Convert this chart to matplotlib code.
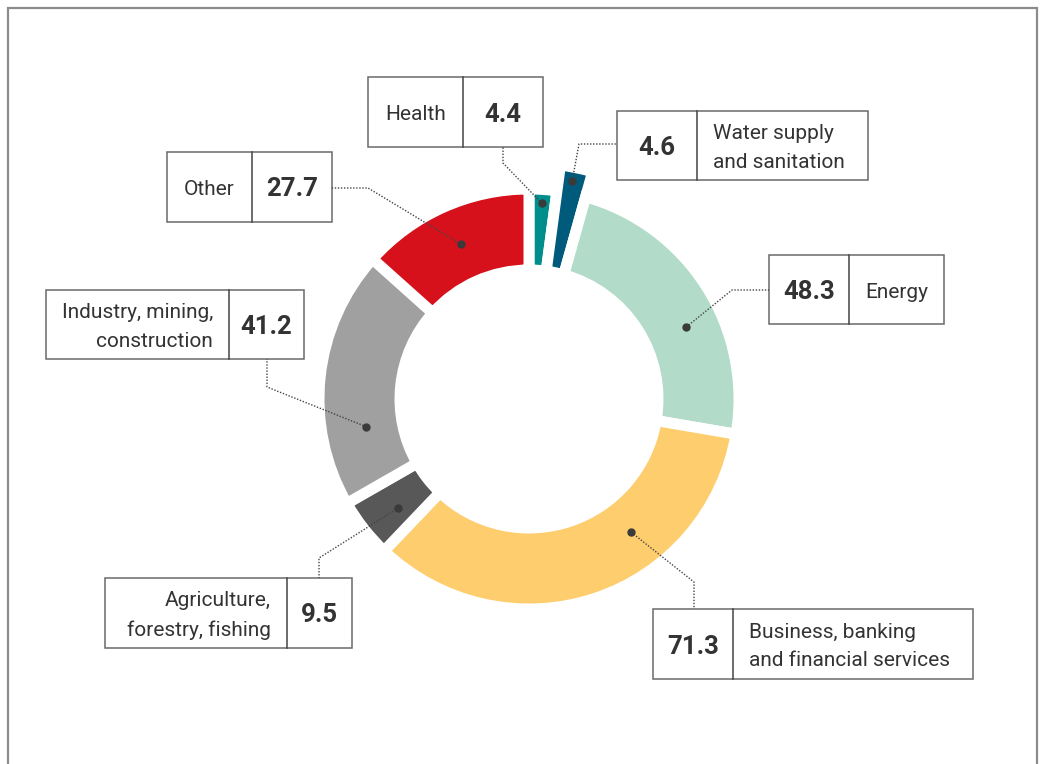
"""
Donut chart of allocations by sector, with boxed labels and dotted leaders.
Output: out.png (1041 x 764 px)
"""
import numpy as np
import matplotlib
matplotlib.use("Agg")
import matplotlib.pyplot as plt
from matplotlib.patches import Rectangle

plt.rcParams["font.family"] = ["Roboto", "DejaVu Sans"]

# ---- data (clockwise from 12 o'clock) ----
sectors = ["Health", "Water supply\nand sanitation", "Energy",
           "Business, banking\nand financial services",
           "Agriculture,\nforestry, fishing",
           "Industry, mining,\nconstruction", "Other"]
values = [4.4, 4.6, 48.3, 71.3, 9.5, 41.2, 27.7]
value_labels = ["4.4", "4.6", "48.3", "71.3", "9.5", "41.2", "27.7"]
colors = ["#008E8C", "#005A7C", "#B2DBC9", "#FDCD6E",
          "#585858", "#A0A0A0", "#D7111B"]

# ---- layout (pixel units, y measured from top) ----
W, H = 1041, 764
CX, CY = 529, 399
R_OUT, R_IN = 210, 129          # incl. half of the white stroke
R_WATER = 236                   # water slice sticks out
GAP_PT = 7.9
TXT = "#333333"

# box: left, top, right, bottom, divider x, value side, label align
boxes = {
    "Health":   dict(box=(368, 77, 543, 147), div=463, val="right", al="center"),
    "Water":    dict(box=(617, 111, 868, 180), div=697, val="left", al="left"),
    "Energy":   dict(box=(769, 255, 944, 324), div=849, val="left", al="center"),
    "Business": dict(box=(653, 609, 973, 679), div=733, val="left", al="left"),
    "Agri":     dict(box=(105, 578, 352, 648), div=287, val="right", al="right"),
    "Industry": dict(box=(46, 290, 304, 359), div=229, val="right", al="right"),
    "Other":    dict(box=(167, 152, 332, 222), div=252, val="right", al="center"),
}
box_keys = ["Health", "Water", "Energy", "Business", "Agri", "Industry", "Other"]
# leader: anchor angle (deg clockwise from top), anchor radius, elbow, box end
leaders = [
    (3.8, 196, (503, 163), (503, 147)),
    (11.2, 222, (579, 144), (617, 144)),
    (65.4, 173, (732, 290), (769, 290)),
    (142.5, 168, (694, 582), (694, 609)),
    (230.2, 170, (319, 558), (319, 578)),
    (260.3, 165, (267, 387), (267, 359)),
    (336.3, 169, (368, 188), (332, 188)),
]


def Y(py):
    return H - py


fig = plt.figure(figsize=(W / 100, H / 100), dpi=100)
ax = fig.add_axes([0, 0, 1, 1])

wedges, _ = ax.pie(values, colors=colors, startangle=90, counterclock=False,
                   radius=R_OUT, center=(CX, Y(CY)),
                   wedgeprops=dict(width=R_OUT - R_IN, edgecolor="white",
                                   linewidth=GAP_PT))
wedges[1].set_radius(R_WATER)
wedges[1].set_width(R_WATER - R_IN)

ax.set_xlim(0, W)
ax.set_ylim(0, H)
ax.set_aspect("equal")
ax.axis("off")

# outer frame (open at the bottom)
ax.plot([8, 8, 1037, 1037], [0, Y(8), Y(8), 0], color="#8C8C8C", lw=1.6,
        solid_joinstyle="miter", zorder=1)

for name, lab, key, (ang, rad, elbow, end) in zip(sectors, value_labels,
                                                   box_keys, leaders):
    b = boxes[key]
    x0, y0, x1, y1 = b["box"]
    ax.add_patch(Rectangle((x0, Y(y1)), x1 - x0, y1 - y0, facecolor="white",
                           edgecolor="#6A6A6A", lw=1.1, zorder=3))
    ax.plot([b["div"], b["div"]], [Y(y0), Y(y1)], color="#444444", lw=1.1,
            zorder=4)
    ym = Y((y0 + y1) / 2) - 2.5
    if b["val"] == "right":
        vx = (b["div"] + x1) / 2
        lx0, lx1 = x0, b["div"]
    else:
        vx = (x0 + b["div"]) / 2
        lx0, lx1 = b["div"], x1
    ax.text(vx, ym, lab, ha="center", va="center", fontsize=18.5,
            fontweight="bold", color=TXT, zorder=5)
    if b["al"] == "center":
        tx = (lx0 + lx1) / 2
    elif b["al"] == "left":
        tx = lx0 + 16
    else:
        tx = lx1 - 16
    ax.text(tx, ym, name, ha=b["al"], va="center", fontsize=15,
            color=TXT, linespacing=1.62, multialignment=b["al"], zorder=5)

    # dotted leader from slice to box
    a = np.deg2rad(ang)
    px = CX + rad * np.sin(a)
    py = CY - rad * np.cos(a)
    ax.plot([px, elbow[0], end[0]], [Y(py), Y(elbow[1]), Y(end[1])],
            color="#444444", lw=1.0, ls=(0, (1, 1.2)), zorder=6)
    ax.plot(px, Y(py), "o", color="#3A3A3A", ms=5, zorder=7)

fig.savefig("out.png", dpi=100)
